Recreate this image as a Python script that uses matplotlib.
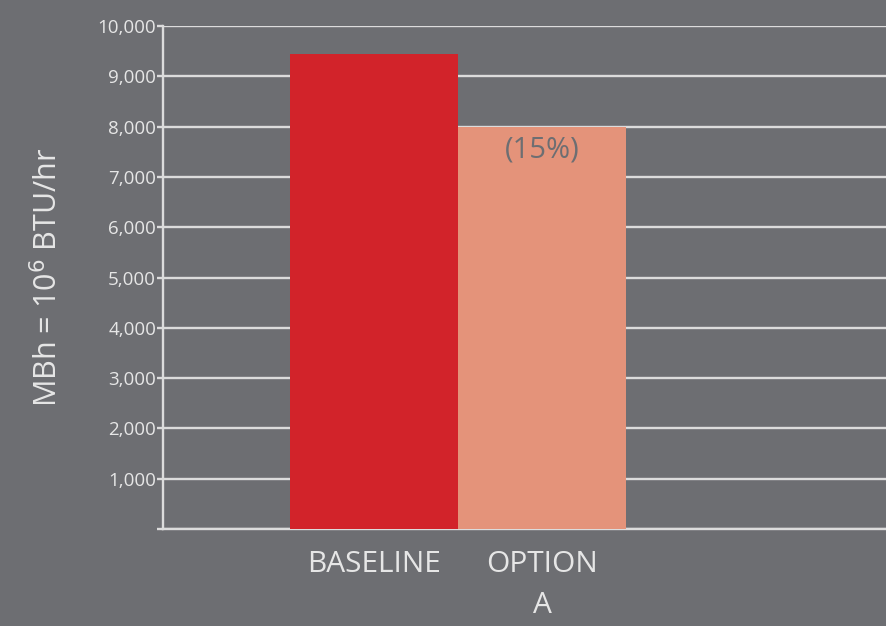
import matplotlib
matplotlib.use('Agg')
import matplotlib.pyplot as plt
from matplotlib.ticker import FuncFormatter


FILE = 'out.png'

CATEGORIES = ['BASELINE', 'OPTION\nA']
VALUES = [9450, 8000]
BAR_COLORS = ['#d2232a', '#e4937a']
CHANGE_LABEL = '(15%)'
Y_TICKS = [0, 1000, 2000, 3000, 4000, 5000, 6000, 7000, 8000, 9000, 10000]

BACKGROUND = '#6d6e72'
LINE_COLOR = '#dcdcdc'
TEXT_COLOR = '#e6e6e6'


def tick_format(v, _):
    return '' if v == 0 else f'{int(v):,}'


def main():
    plt.rcParams['font.family'] = ['Open Sans', 'DejaVu Sans']

    fig = plt.figure(figsize=(8.87, 6.26), dpi=100, facecolor=BACKGROUND)
    ax = fig.add_axes([163 / 887, 1 - 529 / 626, 1 - 163 / 887, (529 - 26) / 626])
    ax.set_facecolor(BACKGROUND)

    # Bars on top of the gridlines
    x = range(len(CATEGORIES))
    ax.bar(x, VALUES, width=1.0, color=BAR_COLORS, zorder=3)
    ax.text(1, 7820, CHANGE_LABEL, ha='center', va='top', fontsize=21,
            color=BACKGROUND, zorder=4)

    ax.set_xlim(-1.256, 3.054)
    ax.set_ylim(0, 10000)
    ax.set_yticks(Y_TICKS)
    ax.yaxis.set_major_formatter(FuncFormatter(tick_format))
    ax.set_xticks(list(x))
    ax.set_xticklabels(CATEGORIES, fontsize=21.5, color=TEXT_COLOR, linespacing=1.55)

    ax.yaxis.grid(True, color=LINE_COLOR, linewidth=1.7, zorder=0)
    ax.set_axisbelow(True)

    for side in ['top', 'right']:
        ax.spines[side].set_visible(False)
    for side in ['left', 'bottom']:
        ax.spines[side].set_color(LINE_COLOR)
        ax.spines[side].set_linewidth(1.7)

    ax.tick_params(axis='y', colors=LINE_COLOR, labelcolor=TEXT_COLOR,
                   labelsize=13.5, length=4, width=1.7, pad=1)
    ax.tick_params(axis='x', length=0, pad=15)

    ax.set_ylabel('MBh = 10$^6$ BTU/hr', fontsize=22, color=TEXT_COLOR, labelpad=24)

    fig.savefig(FILE, facecolor=BACKGROUND)


if __name__ == '__main__':
    main()
